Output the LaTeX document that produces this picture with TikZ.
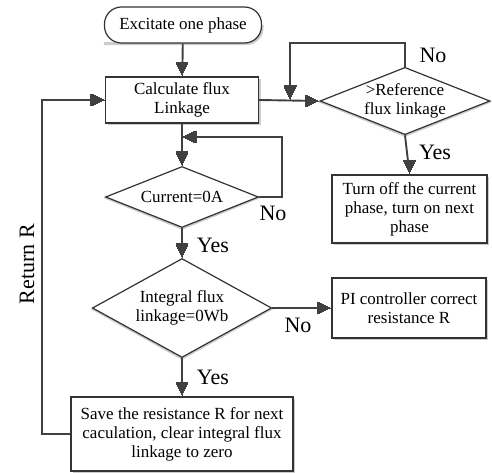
\documentclass[tikz,border=0pt]{standalone}
\usepackage{fontspec}
\setmainfont{Liberation Serif}
\usetikzlibrary{shapes.geometric,backgrounds}
\newcommand\mytipD[1]{\foreach \i in {1,...,14}{\draw[tipseg] ([shift={(-0.464*\i,\i)}]#1) -- ([shift={(0.464*\i,\i)}]#1);}}
\newcommand\mytipR[1]{\foreach \i in {1,...,14}{\draw[tipseg] ([shift={(-\i,-0.464*\i)}]#1) -- ([shift={(-\i,0.464*\i)}]#1);}}
\newcommand\mytipL[1]{\foreach \i in {1,...,14}{\draw[tipseg] ([shift={(\i,-0.464*\i)}]#1) -- ([shift={(\i,0.464*\i)}]#1);}}
\begin{document}
\begin{tikzpicture}[x=1pt,y=1pt,
  conn/.style={draw=black!75,line width=1.9pt,shorten >=7pt},
  tipseg/.style={draw=black!75,line width=1.3pt},
  shadline/.style={draw=black!20,line width=3pt},
  boxnode/.style={shape=rectangle,draw=black!80,line width=1.2pt,fill=white,inner sep=0pt,align=center,font=\fontsize{17}{19}\selectfont},
  decnode/.style={shape=diamond,aspect=2.5,draw=black!80,line width=1.2pt,fill=white,inner sep=0pt,align=center,font=\fontsize{17}{19}\selectfont},
  lbl/.style={font=\fontsize{22}{24}\selectfont,inner sep=0pt}]
\useasboundingbox (0,0) rectangle (492,-473);
% nodes
\node[boxnode,rounded corners=17pt,minimum width=157pt,minimum height=36pt] (start) at (183,-25) {Excitate one phase};
\node[boxnode,minimum width=153pt,minimum height=46pt] (calc) at (182,-100) {Calculate flux\\Linkage};
\node[decnode,minimum width=170pt,minimum height=67pt] (ref) at (405,-101) {>Reference\\flux linkage};
\node[boxnode,minimum width=155pt,minimum height=68pt] (turn) at (409.5,-209) {Turn off the current\\phase, turn on next\\phase};
\node[decnode,minimum width=153pt,minimum height=61pt] (cur) at (182,-197) {Current=0A};
\node[decnode,minimum width=175pt,minimum height=99pt] (int) at (182,-308) {Integral flux\\linkage=0Wb};
\node[boxnode,minimum width=154pt,minimum height=60pt] (pi) at (409,-308) {PI controller correct\\resistance R};
\node[boxnode,minimum width=222pt,minimum height=74pt] (save) at (182,-434) {Save the resistance R for next\\caculation, clear integral flux\\linkage to zero};
% shadows
\begin{scope}[on background layer,shift={(1.5,-1.5)}]
\draw[shadline,rounded corners=16pt] (start.east) -- (start.south east) -- (start.south west);
\draw[shadline] ([yshift=-3pt]calc.north east) -- (calc.south east) -- ([xshift=3pt]calc.south west);
\draw[shadline] ([yshift=-3pt]turn.north east) -- (turn.south east) -- ([xshift=3pt]turn.south west);
\draw[shadline] ([yshift=-3pt]pi.north east) -- (pi.south east) -- ([xshift=3pt]pi.south west);
\draw[shadline] ([yshift=-3pt]save.north east) -- (save.south east) -- ([xshift=3pt]save.south west);
\draw[shadline] (ref.east) -- (ref.south) -- (ref.west);
\draw[shadline] (cur.east) -- (cur.south) -- (cur.west);
\draw[shadline] (int.east) -- (int.south) -- (int.west);
\end{scope}
% helper coordinates
\coordinate (refup) at (405,-43);
\coordinate (refleft) at (290,-43);
\coordinate (refin) at (290,-100);
\coordinate (curright) at (282,-197);
\coordinate (curup) at (282,-137);
\coordinate (curin) at (182,-137);
\coordinate (saveleft) at (42,-434);
\coordinate (saveup) at (42,-100);
% connectors
\draw[conn] (start) -- (calc);
\mytipD{calc.north}
\draw[conn] (calc.east) -- (ref.west);
\mytipR{ref.west}
\draw[conn] (ref.north) -- (refup) -- (refleft) -- (refin);
\mytipD{refin}
\draw[conn] (ref.south) -- (turn.north);
\mytipD{turn.north}
\draw[conn] (calc.south) -- (cur.north);
\mytipD{cur.north}
\draw[conn] (cur.east) -- (curright) -- (curup) -- (curin);
\mytipL{curin}
\draw[conn] (cur.south) -- (int.north);
\mytipD{int.north}
\draw[conn] (int.east) -- (pi.west);
\mytipR{pi.west}
\draw[conn] (int.south) -- (save.north);
\mytipD{save.north}
\draw[conn] (save.west) -- (saveleft) -- (saveup) -- (calc.west);
\mytipR{calc.west}
% labels
\node[lbl] (n1) at (433,-55) {No};
\node[lbl] (y1) at (435,-152) {Yes};
\node[lbl] (n2) at (273,-213) {No};
\node[lbl] (y2) at (213,-245) {Yes};
\node[lbl] (n3) at (298,-325) {No};
\node[lbl] (y3) at (213,-377) {Yes};
\node[lbl,rotate=90] (ret) at (27,-264) {Return R};
\end{tikzpicture}
\end{document}
